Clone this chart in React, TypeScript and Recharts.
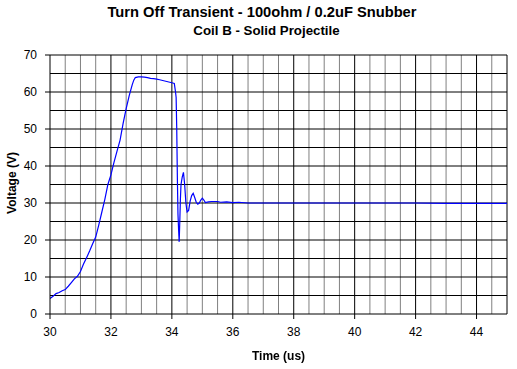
import React from 'react';
import { LineChart, Line, XAxis, YAxis, ReferenceLine } from 'recharts';

const timeUs = [
  30.0, 30.1, 30.2, 30.3, 30.4, 30.5, 30.6, 30.7, 30.8, 30.9,
  31.0, 31.1, 31.2, 31.3, 31.4, 31.5, 31.6, 31.7, 31.8, 31.9,
  32.0, 32.1, 32.2, 32.3, 32.4, 32.5, 32.6, 32.7, 32.75, 32.8, 32.9,
  33.0, 33.1, 33.2, 33.3, 33.4, 33.5, 33.6, 33.7, 33.8, 33.9,
  34.0, 34.08, 34.12, 34.14, 34.16, 34.18, 34.2, 34.22, 34.24, 34.26,
  34.28, 34.3, 34.34, 34.38, 34.42, 34.46, 34.5, 34.55, 34.6, 34.65,
  34.7, 34.75, 34.8, 34.85, 34.9, 34.95, 35.0, 35.05, 35.1, 35.2,
  35.3, 35.5, 35.6, 35.8, 36.0, 36.2, 36.5, 38.0, 40.0, 42.0, 43.0, 45.0,
];

const voltageV = [
  4.2, 4.8, 5.5, 5.8, 6.3, 6.6, 7.5, 8.5, 9.5, 10.2,
  11.5, 13.5, 15.2, 17.0, 19.0, 20.8, 24.0, 27.5, 31.0, 35.0,
  37.6, 41.0, 44.0, 47.0, 51.5, 55.5, 59.0, 62.0, 63.2, 63.9, 64.1,
  64.1, 64.0, 63.9, 63.7, 63.6, 63.5, 63.3, 63.1, 62.9, 62.7,
  62.5, 62.3, 60.0, 58.5, 50.0, 37.0, 27.0, 23.0, 19.5, 25.0,
  31.0, 35.0, 37.0, 38.3, 35.0, 30.0, 27.6, 28.0, 30.5, 32.0,
  32.6, 31.5, 30.2, 29.7, 30.0, 30.8, 31.3, 30.8, 30.1, 30.3,
  30.4, 30.4, 30.2, 30.3, 30.1, 30.2, 30.0, 30.0, 30.0, 30.0, 29.9, 29.9,
];

const xTicks = [30, 32, 34, 36, 38, 40, 42, 44];
const yTicks = [0, 10, 20, 30, 40, 50, 60, 70];
const xGridMinor = [30.5, 31, 31.5, 32.5, 33, 33.5, 34.5, 35, 35.5, 36.5, 37, 37.5, 38.5, 39, 39.5, 40.5, 41, 41.5, 42.5, 43, 43.5, 44.5];
const xGridMajor = [32, 34, 36, 38, 40, 42, 44, 45];
const yGrid = [5, 10, 15, 20, 25, 30, 35, 40, 45, 50, 55, 60, 65, 70];

const data = timeUs.map((t, i) => ({ t, v: voltageV[i] }));

const FONT = '"Liberation Sans", Arial, sans-serif';

export default function App() {
  return (
    <div style={{ position: 'fixed', left: 0, top: 0, width: 517, height: 369, background: '#fff', fontFamily: FONT }}>
      <div style={{ position: 'absolute', left: 0, width: 524, top: 4, textAlign: 'center', fontSize: 14.7, fontWeight: 'bold', color: '#000' }}>
        Turn Off Transient - 100ohm / 0.2uF Snubber
      </div>
      <div style={{ position: 'absolute', left: 0, width: 533, top: 23, textAlign: 'center', fontSize: 13.3, fontWeight: 'bold', color: '#000' }}>
        Coil B - Solid Projectile
      </div>
      <LineChart
        width={517}
        height={369}
        data={data}
        margin={{ top: 55, right: 10, bottom: 25, left: 0 }}
      >
        {xGridMinor.map((x) => (
          <ReferenceLine key={'xm' + x} x={x} stroke="#808080" strokeWidth={1} />
        ))}
        {yGrid.map((y) => (
          <ReferenceLine key={'y' + y} y={y} stroke="#000" strokeWidth={1} />
        ))}
        {xGridMajor.map((x) => (
          <ReferenceLine key={'xM' + x} x={x} stroke="#000" strokeWidth={1} />
        ))}
        <XAxis
          dataKey="t"
          type="number"
          domain={[30, 45]}
          ticks={xTicks}
          allowDataOverflow
          height={30}
          stroke="#000"
          tickSize={5}
          tickMargin={8}
          tick={{ fill: '#000', fontSize: 12, fontFamily: FONT }}
        />
        <YAxis
          type="number"
          domain={[0, 70]}
          ticks={yTicks}
          width={50}
          stroke="#000"
          tickSize={5}
          tickMargin={8}
          tick={{ fill: '#000', fontSize: 12, fontFamily: FONT }}
        />
        <Line
          type="linear"
          dataKey="v"
          stroke="#0000ff"
          strokeWidth={1.2}
          dot={false}
          isAnimationActive={false}
        />
      </LineChart>
      <div style={{ position: 'absolute', left: 0, width: 557, top: 349, textAlign: 'center', fontSize: 12, fontWeight: 'bold', color: '#000' }}>
        Time (us)
      </div>
      <div style={{ position: 'absolute', left: 12, top: 184, width: 0, height: 0 }}>
        <div style={{ position: 'absolute', left: -60, top: -8, width: 120, textAlign: 'center', transform: 'rotate(-90deg)', fontSize: 12, fontWeight: 'bold', color: '#000', whiteSpace: 'nowrap' }}>
          Voltage (V)
        </div>
      </div>
    </div>
  );
}
